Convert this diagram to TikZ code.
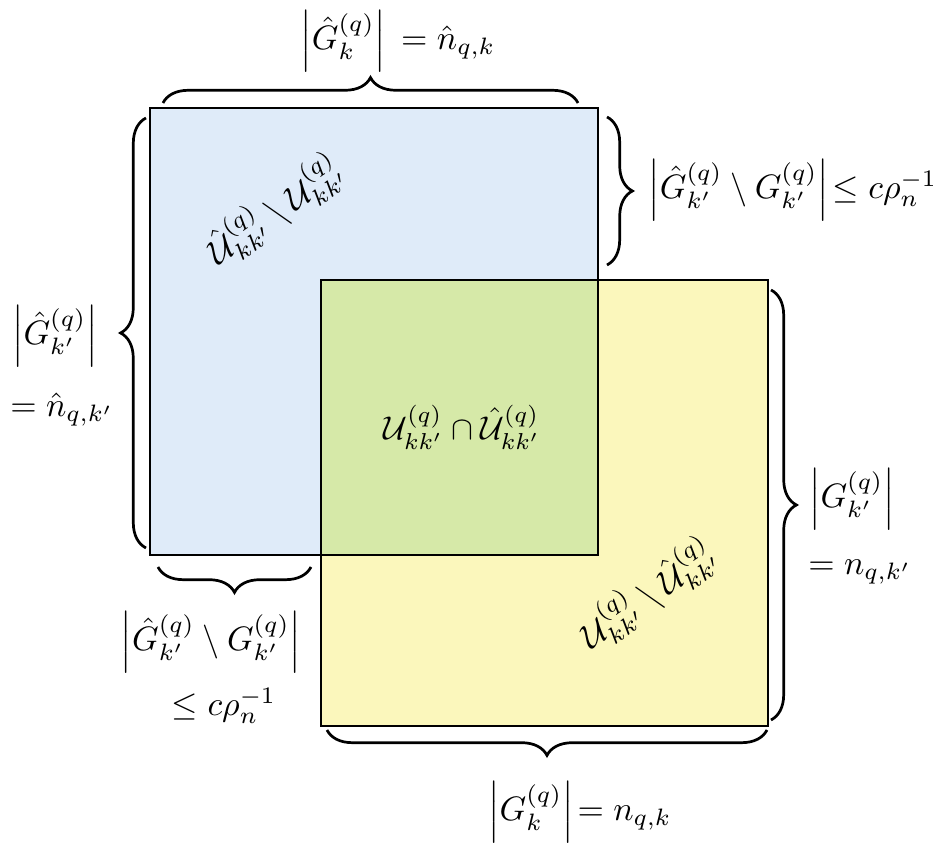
\documentclass[tikz,border=0pt]{standalone}
\usepackage{graphicx}
\usepackage{amsmath,amssymb}
\usetikzlibrary{decorations.pathreplacing}
\definecolor{bluefill}{HTML}{DFEBF9}
\definecolor{greenfill}{HTML}{D6E9A8}
\definecolor{yellowfill}{HTML}{FBF7BC}
\begin{document}
\begin{tikzpicture}[x=0.295pt,y=-0.295pt,
  bracestyle/.style={decorate,decoration={brace,amplitude=7.5pt},thick},
  box/.style={draw,thick},
  lbl/.style={inner sep=0pt},
  rotlbl/.style={inner sep=0pt,rotate=35}]
\useasboundingbox (0,0) rectangle (951,848);
% squares
\coordinate (B1) at (150,108); \coordinate (B2) at (598,555);
\coordinate (Y1) at (321,280); \coordinate (Y2) at (768,726);
\fill[bluefill] (B1) rectangle (B2);
\fill[yellowfill] (Y1) rectangle (Y2);
\fill[greenfill] (Y1) rectangle (B2);
\draw[box] (B1) rectangle (B2);
\draw[box] (Y1) rectangle (Y2);
% brace end points
\coordinate (t1) at (163,103); \coordinate (t2) at (578,103);
\coordinate (r1) at (607,117); \coordinate (r2) at (607,265);
\coordinate (l1) at (146,548); \coordinate (l2) at (146,118);
\coordinate (b1) at (311,567); \coordinate (b2) at (158,567);
\coordinate (s1) at (771,290); \coordinate (s2) at (771,720);
\coordinate (u1) at (767,730); \coordinate (u2) at (327,730);
\draw[bracestyle] (t1) -- (t2);
\draw[bracestyle] (r1) -- (r2);
\draw[bracestyle] (l1) -- (l2);
\draw[bracestyle] (b1) -- (b2);
\draw[bracestyle] (s1) -- (s2);
\draw[bracestyle] (u1) -- (u2);
% labels
\node[lbl] (topl) at (398,41) {$\left|\hat G^{(q)}_k\right|\, = \hat n_{q,k}$};
\node[lbl,anchor=west] (rtl) at (648,190) {$\left|\hat G^{(q)}_{k'}\setminus G^{(q)}_{k'}\right|\!\le c\rho_n^{-1}$};
\node[lbl] (lf1) at (55,336) {$\left|\hat G^{(q)}_{k'}\right|$};
\node[lbl] (lf2) at (62,410) {$=\hat n_{q,k'}$};
\node[lbl] (bl1) at (211,642) {$\left|\hat G^{(q)}_{k'}\setminus G^{(q)}_{k'}\right|$};
\node[lbl] (bl2) at (224,706) {$\le c\rho_n^{-1}$};
\node[lbl] (ry1) at (852,499) {$\left|G^{(q)}_{k'}\right|$};
\node[lbl] (ry2) at (860,572) {$= n_{q,k'}$};
\node[lbl] (botl) at (580,812) {$\left|G^{(q)}_k\right|\!= n_{q,k}$};
\node[lbl] (ctr) at (462,427) {\scalebox{0.97}{$\mathcal{U}^{(q)}_{kk'}\cap\hat{\mathcal{U}}^{(q)}_{kk'}$}};
\node[rotlbl] (bluel) at (275,210) {$\hat{\mathcal{U}}^{(q)}_{kk'}\setminus\mathcal{U}^{(q)}_{kk'}$};
\node[rotlbl] (yell) at (648,594) {$\mathcal{U}^{(q)}_{kk'}\setminus\hat{\mathcal{U}}^{(q)}_{kk'}$};
\end{tikzpicture}
\end{document}
